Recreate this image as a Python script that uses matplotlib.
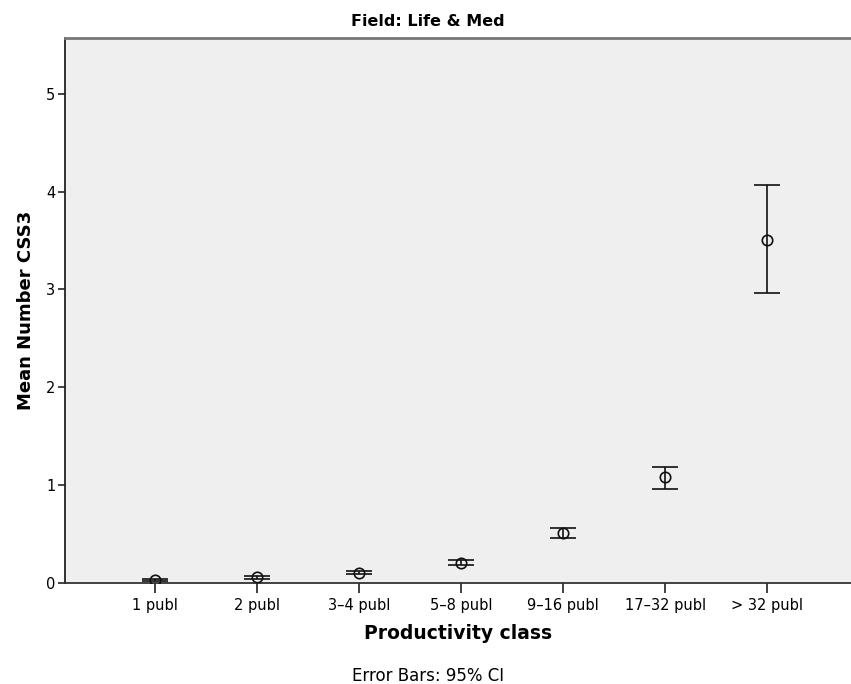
import matplotlib.pyplot as plt

# productivity classes and mean number of CSS3 with 95% CI
classes = ["1 publ", "2 publ", "3\u20134 publ", "5\u20138 publ", "9\u201316 publ", "17\u201332 publ", "> 32 publ"]
means = [0.03, 0.06, 0.10, 0.20, 0.51, 1.08, 3.51]
ci_low = [0.02, 0.04, 0.09, 0.18, 0.46, 0.96, 2.96]
ci_high = [0.04, 0.07, 0.12, 0.23, 0.56, 1.19, 4.07]

plt.rcParams['font.family'] = ['DejaVu Sans']

fig = plt.figure(figsize=(8.51, 6.84), dpi=100)
ax = fig.add_axes([65 / 851, 101 / 684, 786 / 851, 545 / 684])
ax.set_facecolor('#efefef')

x = list(range(len(classes)))
yerr = [[m - lo for m, lo in zip(means, ci_low)],
        [hi - m for m, hi in zip(means, ci_high)]]
ax.errorbar(x, means, yerr=yerr, fmt='o', mfc='none', mec='#111111', ms=7.5, mew=1.2,
            ecolor='#111111', elinewidth=1.2, capsize=9.5, capthick=1.2, zorder=3)

ax.set_xlim(-0.88, 6.82)
ax.set_ylim(0, 5.57)
ax.set_xticks(x)
ax.set_xticklabels(classes, fontsize=10.5)
ax.set_yticks([0, 1, 2, 3, 4, 5])
ax.tick_params(axis='x', length=7, width=1.2, color='#222222', pad=4)
ax.tick_params(axis='y', length=5, width=1.2, color='#222222', labelsize=10.5, pad=2)

ax.spines['right'].set_visible(False)
ax.spines['top'].set_color('#777777')
ax.spines['top'].set_linewidth(2)
ax.spines['left'].set_color('#222222')
ax.spines['left'].set_linewidth(1.3)
ax.spines['bottom'].set_color('#333333')
ax.spines['bottom'].set_linewidth(1.3)

fig.text(428 / 851, 1 - 21 / 684, "Field: Life & Med", ha='center', va='center',
         fontsize=11.5, fontweight='bold')
ax.set_ylabel("Mean Number CSS3", fontsize=13, fontweight='bold', labelpad=8)
ax.set_xlabel("Productivity class", fontsize=13.5, fontweight='bold', labelpad=8)
fig.text(428 / 851, 1 - 676 / 684, "Error Bars: 95% CI", ha='center', va='center', fontsize=12)

fig.savefig("out.png", dpi=100)
